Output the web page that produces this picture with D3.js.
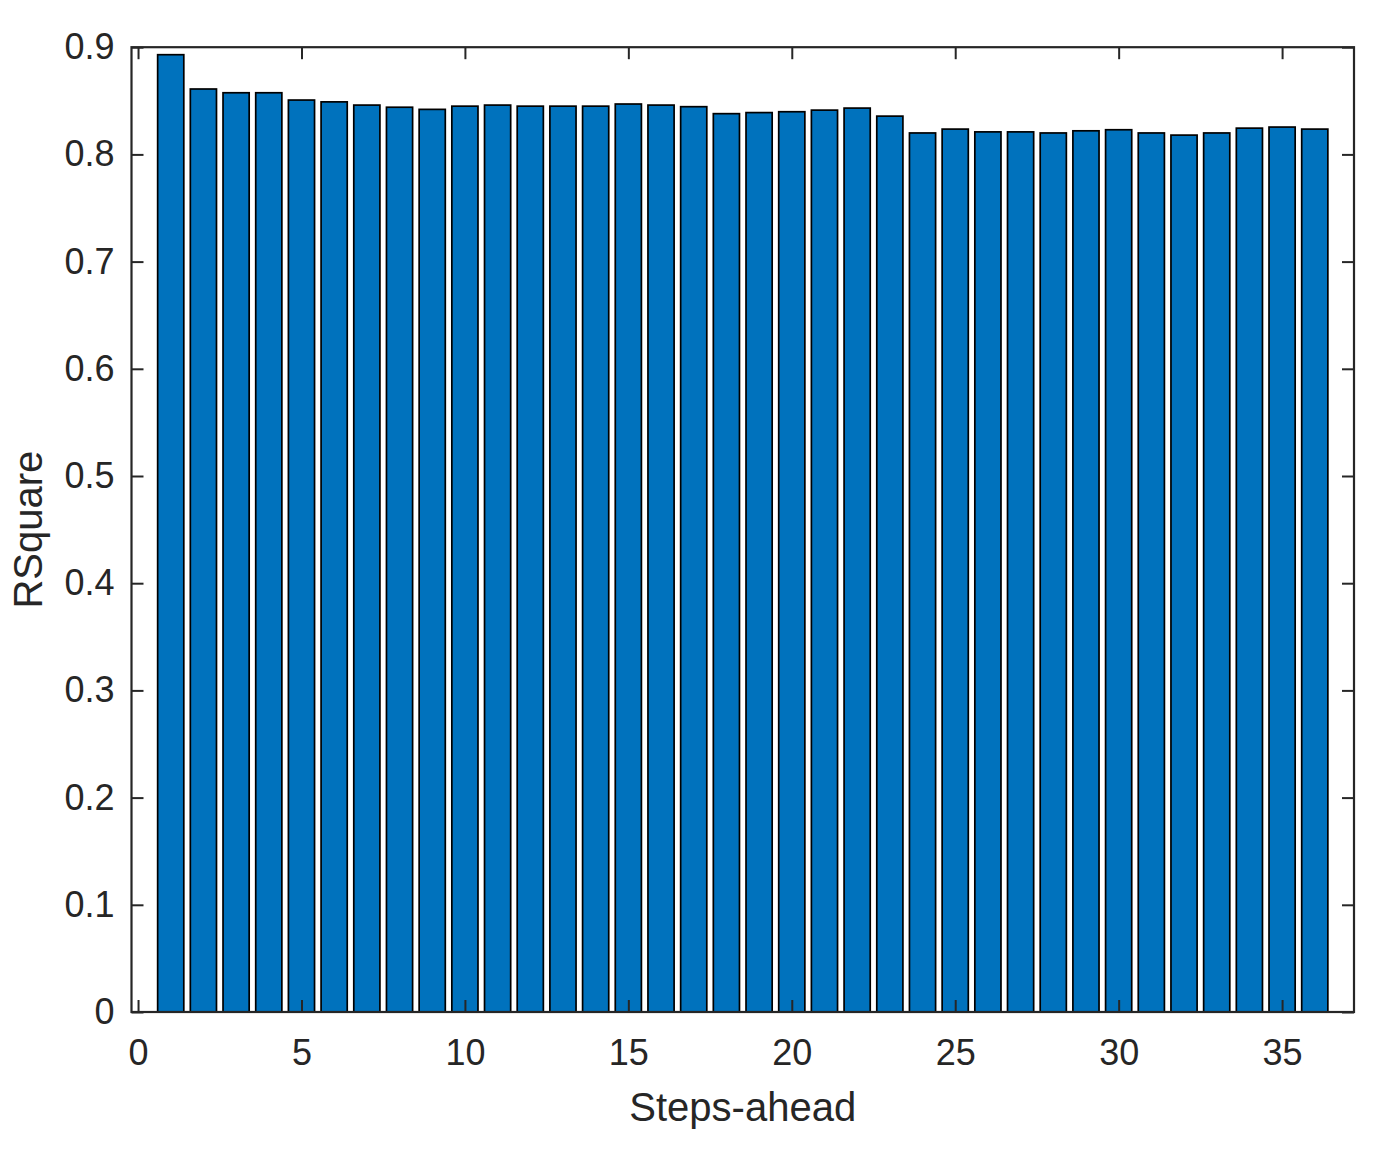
<!DOCTYPE html>
<html>
<head>
<meta charset="utf-8">
<script src="https://cdn.jsdelivr.net/npm/d3@7"></script>
<style>
html,body{margin:0;padding:0;background:#fff;}
svg{display:block;}
text{font-family:Arial,"Liberation Sans",sans-serif;fill:#262626;}
</style>
</head>
<body>
<svg id="chart" width="1383" height="1165"></svg>
<script>
const steps = d3.range(1, 37);
const rsquare = [0.893,0.861,0.8575,0.8575,0.8507,0.849,0.846,0.844,0.842,0.845,0.846,0.845,
                 0.845,0.845,0.847,0.846,0.8445,0.838,0.839,0.8398,0.8413,0.8432,0.8357,0.820,
                 0.8236,0.821,0.821,0.820,0.822,0.823,0.820,0.818,0.820,0.8245,0.8255,0.8236];
const xTicks = [0,5,10,15,20,25,30,35];
const yTicks = [0,0.1,0.2,0.3,0.4,0.5,0.6,0.7,0.8,0.9];
const xLabel = "Steps-ahead";
const yLabel = "RSquare";

const pLeft = 131.5, pRight = 1354, pTop = 47.2, pBottom = 1012;
const svg = d3.select("#chart");
const x = d3.scaleLinear().domain([-0.2, 37.2]).range([pLeft, pRight]);
const y = d3.scaleLinear().domain([0, 0.9]).range([pBottom, pTop]);
const barW = x(0.8) - x(0);

svg.append("g").selectAll("rect").data(steps).join("rect")
  .attr("x", (d) => x(d) - barW/2)
  .attr("y", (d, i) => y(rsquare[i]))
  .attr("width", barW)
  .attr("height", (d, i) => y(0) - y(rsquare[i]))
  .attr("fill", "#0072BD")
  .attr("stroke", "#000")
  .attr("stroke-width", 1.7);

const tickLen = 12;
const axisColor = "#262626";
const fs = 36;

const gx = svg.append("g").attr("transform", `translate(0,${pBottom})`)
  .call(d3.axisBottom(x).tickValues(xTicks).tickSize(-tickLen).tickPadding(27).tickFormat(d3.format("d")));
gx.selectAll("text").attr("font-size", fs).attr("dy", "0.71em");
const gxt = svg.append("g").attr("transform", `translate(0,${pTop})`)
  .call(d3.axisTop(x).tickValues(xTicks).tickSize(-tickLen).tickFormat(""));
const gy = svg.append("g").attr("transform", `translate(${pLeft},0)`)
  .call(d3.axisLeft(y).tickValues(yTicks).tickSize(-tickLen).tickPadding(17).tickFormat(d => d === 0 ? "0" : d3.format(".1f")(d)));
gy.selectAll("text").attr("font-size", fs);
const gyr = svg.append("g").attr("transform", `translate(${pRight},0)`)
  .call(d3.axisRight(y).tickValues(yTicks).tickSize(-tickLen).tickFormat(""));

[gx, gxt, gy, gyr].forEach(g => {
  g.select(".domain").remove();
  g.selectAll("line").attr("stroke", axisColor).attr("stroke-width", 2);
  g.selectAll("text").attr("fill", axisColor).attr("font-family", "Arial, 'Liberation Sans', sans-serif");
});

svg.append("rect")
  .attr("x", pLeft).attr("y", pTop)
  .attr("width", pRight - pLeft).attr("height", pBottom - pTop)
  .attr("fill", "none").attr("stroke", axisColor).attr("stroke-width", 2.2);

svg.append("text")
  .attr("x", (pLeft + pRight)/2).attr("y", 1121)
  .attr("text-anchor", "middle").attr("font-size", 40)
  .text(xLabel);

svg.append("text")
  .attr("transform", `translate(42,${(pTop + pBottom)/2}) rotate(-90)`)
  .attr("text-anchor", "middle").attr("font-size", 40)
  .text(yLabel);
</script>
</body>
</html>
